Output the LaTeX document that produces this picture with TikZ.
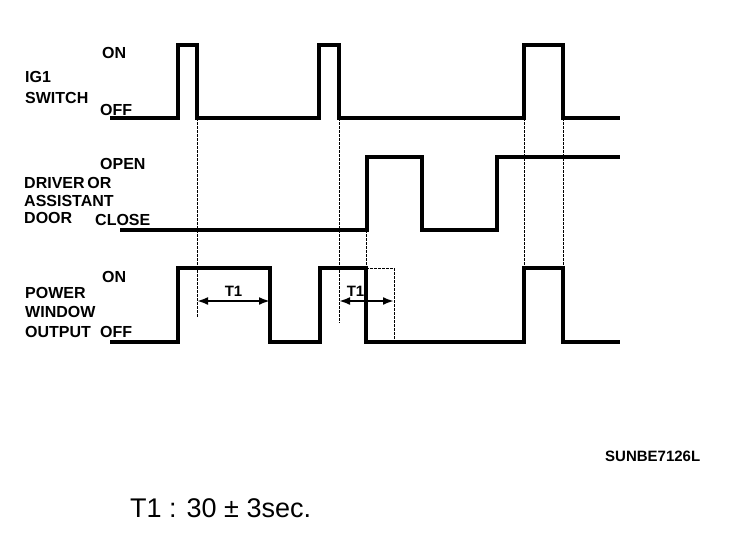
\documentclass[tikz,border=0pt]{standalone}
\usepackage{fontspec}
\setmainfont{Liberation Sans}
\usetikzlibrary{arrows.meta}
\tikzset{
x=1pt, y=-1pt, % one unit is one pixel of the chart, y runs down
wave/.style={line width=3.2pt, line join=miter}, % the signal traces
guide/.style={line width=1pt, dash pattern=on 2.5pt off 1.5pt}, % the thin dotted guides
lbl/.style={font=\bfseries\fontsize{16}{18}\selectfont, inner sep=0pt, anchor=base west}, % names and levels
span/.style={{Latex[length=11pt,width=8pt]}-{Latex[length=11pt,width=8pt]}, line width=2.2pt}, % T1 arrows
}

\begin{document}
\begin{tikzpicture}
    \useasboundingbox (0,0) rectangle (736,536);
    % signal names and levels
    \node[lbl] (on1) at (102,58) {ON};
    \node[lbl] (ig) at (25,82) {IG1};
    \node[lbl] (sw) at (25,103) {SWITCH};
    \node[lbl] (off1) at (100,115) {OFF};
    \node[lbl] (open) at (100,169) {OPEN};
    \node[lbl] (drv) at (24,188) {DRIVER\,OR};
    \node[lbl] (ass) at (24,206) {ASSISTANT};
    \node[lbl] (door) at (24,223) {DOOR};
    \node[lbl] (close) at (95,225) {CLOSE};
    \node[lbl] (on2) at (102,282) {ON};
    \node[lbl] (pw) at (25,298) {POWER};
    \node[lbl] (win) at (25,317) {WINDOW};
    \node[lbl] (out) at (25,337) {OUTPUT};
    \node[lbl] (off2) at (100,337) {OFF};
    % traces
    \draw[wave] (110,118) -| (178,45) -| (197,118) -| (319,45) -| (339,118) -| (524,45) -| (563,118) -- (620,118);
    \draw[wave] (120,230) -| (367,157) -| (422,230) -| (497,157) -- (620,157);
    \draw[wave] (110,342) -| (178,268) -| (270,342) -| (320,268) -| (366,342) -| (524,268) -| (563,342) -- (620,342);
    % guides
    \draw[guide] (197,118) -- (197,318);
    \draw[guide] (339,118) -- (339,323);
    \draw[guide] (366,230) -- (366,268);
    \draw[guide] (366,268) -| (394,342);
    \draw[guide] (524,118) -- (524,268);
    \draw[guide] (563,118) -- (563,268);
    % T1 spans
    \coordinate (a1) at (197,301);
    \coordinate (b1) at (270,301);
    \coordinate (a2) at (339,301);
    \coordinate (b2) at (394,301);
    \draw[span] (a1) -- node[above, font=\bfseries\fontsize{15}{15}\selectfont, inner sep=3pt] (t1a) {T1} (b1);
    \draw[span] (a2) -- node[above, pos=0.3, font=\bfseries\fontsize{15}{15}\selectfont, inner sep=3pt] (t1b) {T1} (b2);
    % notes
    \node[font=\bfseries\fontsize{15}{15}\selectfont, inner sep=0pt, anchor=base west] (code) at (605,461) {SUNBE7126L};
    \node[font=\fontsize{27}{27}\selectfont, inner sep=0pt, anchor=base west] (note) at (130,517) {T1 : 30 ± 3sec.};
\end{tikzpicture}
\end{document}
